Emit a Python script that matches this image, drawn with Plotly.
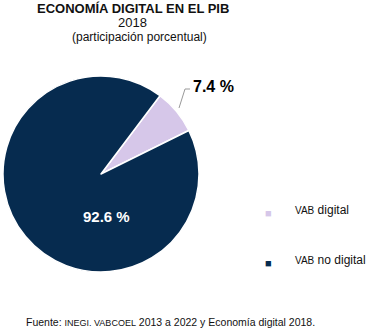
import plotly.graph_objects as go

labels = ["VAB digital", "VAB no digital"]
values = [7.4, 92.6]
colors = ["#d6c7e9", "#062b4f"]
text_labels = ["7.4 %", "92.6 %"]

W, H = 374, 336
def px(x): return x / W
def py(y): return 1 - y / H

fig = go.Figure()
fig.add_trace(go.Pie(
    labels=labels, values=values, sort=False, direction="clockwise",
    rotation=37, textinfo="none", hoverinfo="label+percent",
    marker=dict(colors=colors, line=dict(color="white", width=1.5)),
    domain=dict(x=[px(3), px(199)], y=[py(272), py(76)]),
    showlegend=False,
))

ann = [
    dict(x=px(133), y=py(8), text="<b>ECONOMÍA DIGITAL EN EL PIB</b>", font=dict(size=13, color="#111")),
    dict(x=px(132), y=py(23), text="2018", font=dict(size=13, color="#111")),
    dict(x=px(139), y=py(37), text="(participación porcentual)", font=dict(size=12, color="#111")),
    dict(x=px(214), y=py(86), text="<b>" + text_labels[0] + "</b>", font=dict(size=16, color="#000")),
    dict(x=px(106), y=py(216), text="<b>" + text_labels[1] + "</b>", font=dict(size=15, color="#fff")),
    dict(x=px(268), y=py(213), text="■", font=dict(size=11, color=colors[0])),
    dict(x=px(268), y=py(263), text="■", font=dict(size=11, color=colors[1])),
    dict(x=px(293), y=py(210), text="<span style='font-size:10px'>VAB</span> digital", xanchor="left", font=dict(size=12, color="#111")),
    dict(x=px(293), y=py(260), text="<span style='font-size:10px'>VAB</span> no digital", xanchor="left", font=dict(size=12, color="#111")),
    dict(x=px(24), y=py(322), text="Fuente: <span style='font-size:9px'>INEGI. VABCOEL</span> 2013 a 2022 y Economía digital 2018.", xanchor="left", font=dict(size=10.5, color="#111")),
]
for a in ann:
    a.setdefault("xanchor", "center")
    a.update(xref="paper", yref="paper", showarrow=False, yanchor="middle")
    a["font"]["family"] = "Liberation Sans, Arial, sans-serif"
    fig.add_annotation(**a)

fig.add_shape(type="path", xref="paper", yref="paper",
              path=f"M {px(190)} {py(89)} L {px(185)} {py(89)} L {px(179)} {py(108)}",
              line=dict(color="#999", width=1))

fig.update_layout(width=W, height=H, margin=dict(l=0, r=0, t=0, b=0),
                  paper_bgcolor="white", plot_bgcolor="white")
fig.write_html("out.html")
